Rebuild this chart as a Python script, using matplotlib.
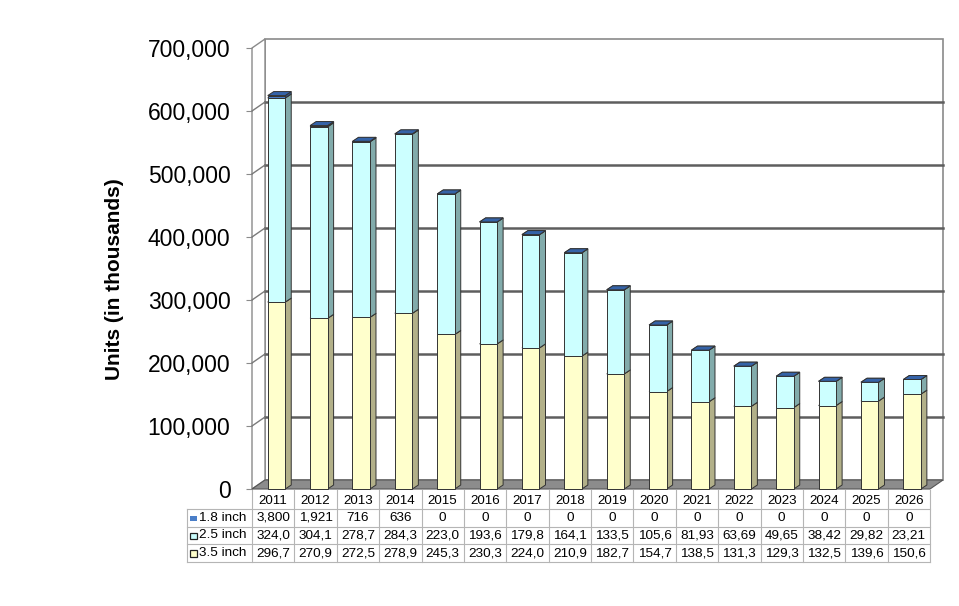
import matplotlib.pyplot as plt
from matplotlib.patches import Polygon, Rectangle
from matplotlib.ticker import FuncFormatter

plt.rcParams['font.family'] = ['Liberation Sans', 'DejaVu Sans']

years = ['2011', '2012', '2013', '2014', '2015', '2016', '2017', '2018',
         '2019', '2020', '2021', '2022', '2023', '2024', '2025', '2026']
inch_18 = [3800, 1921, 716, 636, 0, 0, 0, 0, 0, 0, 0, 0, 0, 0, 0, 0]
inch_25 = [324000, 304100, 278700, 284300, 223000, 193600, 179800, 164100,
           133500, 105600, 81930, 63690, 49650, 38420, 29820, 23210]
inch_35 = [296700, 270900, 272500, 278900, 245300, 230300, 224000, 210900,
           182700, 154700, 138500, 131300, 129300, 132500, 139600, 150600]
series_names = ['1.8 inch', '2.5 inch', '3.5 inch']
y_ticks = [0, 100000, 200000, 300000, 400000, 500000, 600000, 700000]

# stacked bottom -> top, (front, side, top) colours
series = [
    ('3.5 inch', inch_35, '#FFFFCC', '#B2B089', '#E6E6B0'),
    ('2.5 inch', inch_25, '#CCFFFF', '#82ABAB', '#A8DCDC'),
    ('1.8 inch', inch_18, '#4A7EC8', '#2E5490', '#3563A8'),
]

W, H = 959, 606
fig = plt.figure(figsize=(W / 100, H / 100), dpi=100)
x0, x1, y0, y1 = 252, 930, 489, 48   # front plot area in pixels
ax = fig.add_axes([x0 / W, (H - y0) / H, (x1 - x0) / W, (y0 - y1) / H])
n = len(years)
ymax = 700000
ax.set_xlim(0, n)
ax.set_ylim(0, ymax)
px = n / (x1 - x0)          # data units per pixel (x)
py = ymax / (y0 - y1)       # data units per pixel (y)

# walls / floor
dxw, dyw = 13 * px, 9 * py
ax.add_patch(Polygon([(dxw, dyw), (n + dxw, dyw), (n + dxw, ymax + dyw), (dxw, ymax + dyw)],
                     closed=True, fc='white', ec='#8a8a8a', lw=1.2, clip_on=False, zorder=1))
ax.add_patch(Polygon([(0, 0), (dxw, dyw), (dxw, ymax + dyw), (0, ymax)],
                     closed=True, fc='white', ec='#8a8a8a', lw=1.0, clip_on=False, zorder=1))
for v in y_ticks[1:-1]:
    ax.plot([dxw, n + dxw], [v + dyw, v + dyw], color='#5e5e5e', lw=1.8, clip_on=False, zorder=2)
    ax.plot([0, dxw], [v, v + dyw], color='#7a7a7a', lw=1.0, clip_on=False, zorder=2)
ax.add_patch(Polygon([(0, 0), (n, 0), (n + dxw, dyw), (dxw, dyw)],
                     closed=True, fc='#8c8c8c', ec='#555555', lw=0.8, clip_on=False, zorder=2))

# bars (drawn in stacking order so upper segments cover lower top faces)
bw = 17.5 * px
dxb, dyb = 6 * px, 4 * py
shift = 3.3 * px
for i in range(n):
    left = i + 0.5 + shift - bw / 2
    base = 0
    for name, vals, fc, sc, tc in series:
        h = vals[i]
        top = base + h
        ax.add_patch(Polygon([(left + bw, base), (left + bw + dxb, base + dyb),
                              (left + bw + dxb, top + dyb), (left + bw, top)],
                             closed=True, fc=sc, ec='#333333', lw=0.7, clip_on=False, zorder=3))
        ax.add_patch(Rectangle((left, base), bw, h, fc=fc, ec='#333333', lw=0.7,
                               clip_on=False, zorder=3))
        ax.add_patch(Polygon([(left, top), (left + bw, top), (left + bw + dxb, top + dyb),
                              (left + dxb, top + dyb)],
                             closed=True, fc=tc, ec='#333333', lw=0.7, clip_on=False, zorder=3))
        base = top

for s in ax.spines.values():
    s.set_visible(False)
ax.set_xticks([])
ax.set_yticks(y_ticks)
ax.yaxis.set_major_formatter(FuncFormatter(lambda v, p: f'{int(v):,}'))
ax.tick_params(axis='y', length=4, color='#8a8a8a', pad=11.5, labelsize=16.5)
ax.set_facecolor('none')

fig.text(115 / W, 1 - 279 / H, 'Units (in thousands)', rotation=90, ha='center', va='center',
         fontsize=15, fontweight='bold')

# data table
tab = fig.add_axes([0, 0, 1, 1])
tab.set_xlim(0, W)
tab.set_ylim(H, 0)
tab.axis('off')
lab_l = 187
cw = (x1 - x0) / n
row_y = [490, 509, 527, 544, 562]
gc = '#b5b5b5'
for j in range(n + 1):
    tab.plot([x0 + j * cw] * 2, [row_y[0], row_y[-1]], color=gc, lw=0.8)
tab.plot([lab_l, lab_l], [row_y[1], row_y[-1]], color=gc, lw=0.8)
for k in range(1, 5):
    tab.plot([lab_l, x1], [row_y[k], row_y[k]], color=gc, lw=0.8)
for j, yr in enumerate(years):
    tab.text(x0 + (j + 0.5) * cw, (row_y[0] + row_y[1]) / 2 + 1, yr, ha='center', va='center', fontsize=9.6)

table_rows = [('1.8 inch', inch_18, '#4A7EC8', None),
              ('2.5 inch', inch_25, '#CCFFFF', '#222222'),
              ('3.5 inch', inch_35, '#FFFFCC', '#222222')]
for k, (name, vals, kc, kec) in enumerate(table_rows):
    yc = (row_y[k + 1] + row_y[k + 2]) / 2
    if kec is None:
        tab.add_patch(Rectangle((190, yc - 2.5), 7, 5, fc=kc, ec='none'))
    else:
        tab.add_patch(Rectangle((190, yc - 3), 6.5, 6.5, fc=kc, ec=kec, lw=0.9))
    tab.text(199, yc, name, ha='left', va='center', fontsize=9.7)
    for j, v in enumerate(vals):
        tab.text(x0 + (j + 0.5) * cw, yc, f'{v:,}'[:5], ha='center', va='center', fontsize=9.7)

fig.savefig('out.png', dpi=100)
